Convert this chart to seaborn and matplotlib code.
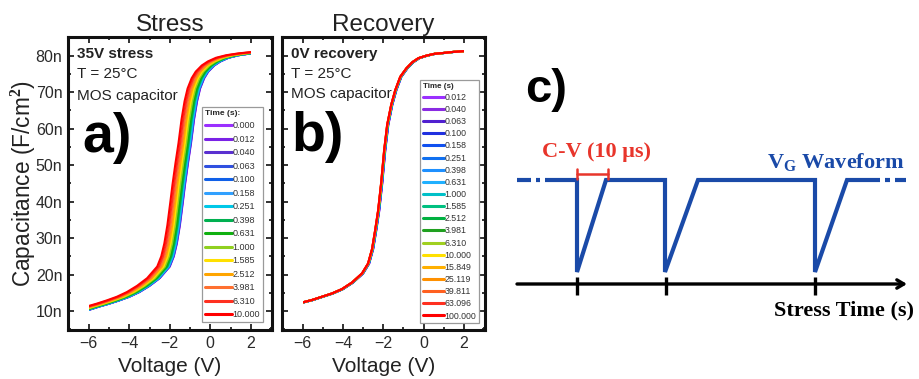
import numpy as np
import pandas as pd
import matplotlib
matplotlib.use("Agg")
import matplotlib.pyplot as plt
from matplotlib.patches import Rectangle
from matplotlib.ticker import FuncFormatter, MultipleLocator
import seaborn as sns

# ---------------------------------------------------------------- data
# gate-voltage window of every C-V sweep (V)
SWEEP = (-6.0, 2.0)

# panel a: unstressed C-V curve (V, nF/cm2)
BASE_V_A = [-6.0, -5.5, -5.0, -4.5, -4.0, -3.5, -3.0, -2.5, -2.0, -1.8, -1.65,
            -1.5, -1.35, -1.25, -1.1, -0.95, -0.8, -0.65, -0.5, -0.3,
            -0.1, 0.2, 0.5, 0.9, 1.4, 2.0, 2.7]
BASE_C_A = [10.3, 11.2, 12.0, 12.9, 13.9, 15.2, 16.9, 19.0, 22.2, 25.0, 28.5,
            33.5, 40.0, 44.5, 50.5, 56.0, 62.5, 67.5, 71.0, 73.8,
            75.6, 77.3, 78.4, 79.4, 80.1, 80.6, 81.0]

# stress times and threshold shift of each curve at mid-gap (V)
STRESS_TIMES = ["0.000", "0.012", "0.040", "0.063", "0.100", "0.158", "0.251",
                "0.398", "0.631", "1.000", "1.585", "2.512", "3.981", "6.310",
                "10.000"]
STRESS_SHIFT = [0.00, -0.01, -0.02, -0.03, -0.04, -0.05, -0.07, -0.12, -0.17,
                -0.24, -0.31, -0.38, -0.46, -0.54, -0.62]
STRESS_COLORS = ["#9b30ff", "#7a22e6", "#5a30d0", "#3050e0", "#1060e8",
                 "#30a0ff", "#00c8e8", "#00b050", "#10b010", "#90d020",
                 "#ffe000", "#ffa500", "#ff7030", "#ff3020", "#ff0000"]

# panel b: C-V curve after 0.012 s of recovery (V, nF/cm2)
BASE_V_B = [-6.0, -5.5, -5.0, -4.5, -4.0, -3.5, -3.0, -2.7, -2.5, -2.35, -2.2,
            -2.05, -1.9, -1.75, -1.55, -1.35, -1.1, -0.8, -0.5, -0.2, 0.2,
            0.6, 1.0, 1.5, 2.0, 2.2]
BASE_C_B = [12.3, 13.0, 13.9, 14.8, 16.0, 17.8, 20.3, 23.0, 27.0, 32.0, 37.5,
            45.0, 54.0, 61.0, 66.5, 70.5, 74.2, 76.5, 78.2, 79.3, 80.0,
            80.5, 80.7, 81.0, 81.2, 81.3]

RECOVERY_TIMES = ["0.012", "0.040", "0.063", "0.100", "0.158", "0.251",
                  "0.398", "0.631", "1.000", "1.585", "2.512", "3.981",
                  "6.310", "10.000", "15.849", "25.119", "39.811", "63.096",
                  "100.000"]
RECOVERY_SHIFT = [0.00, -0.005, -0.01, -0.015, -0.02, -0.02, -0.025, -0.03,
                  -0.03, -0.035, -0.04, -0.04, -0.045, -0.05, -0.05, -0.055,
                  -0.055, -0.06, -0.06]
RECOVERY_COLORS = ["#9b30ff", "#8a2be2", "#5020d0", "#2030e0", "#1050f0",
                   "#1070f0", "#1e90ff", "#20b0ff", "#00c0c8", "#00c080",
                   "#00b040", "#20a020", "#a0d020", "#ffe000", "#ffb000",
                   "#ff9000", "#ff6020", "#ff3020", "#ff0000"]

# panel c: gate waveform schematic (panel units, y grows downward)
WAVE_X = [45, 77, 77, 106, 165, 165, 198, 315, 315, 347, 380]
WAVE_Y = [180, 180, 272, 180, 180, 272, 180, 180, 272, 180, 180]
WAVE_DASHES = [(17, 31), (36, 40), (385, 390), (395, 406)]
TIME_AXIS = (17, 407, 284)
MEAS_TICKS = [77, 166, 315]
CV_WINDOW = (77, 108, 174)

# ---------------------------------------------------------------- style
sns.set_style("ticks")
plt.rcParams["font.family"] = ["Liberation Sans", "DejaVu Sans"]
plt.rcParams["mathtext.fontset"] = "custom"
plt.rcParams["mathtext.rm"] = "Liberation Serif:bold"
plt.rcParams["mathtext.bf"] = "Liberation Serif:bold"

W, H = 919, 379
fig = plt.figure(figsize=(W / 100, H / 100), dpi=100)


def frac_box(x0, y0, x1, y1):
    return [x0 / W, 1 - y1 / H, (x1 - x0) / W, (y1 - y0) / H]


def curves_frame(base_v, base_c, times, shifts):
    rows = []
    for t, s in zip(times, shifts):
        for v, c in zip(base_v, base_c):
            rows.append({"V": v + s, "C": c, "time": t})
    return pd.DataFrame(rows)


def cv_panel(ax, df, times, colors, title, notes, tag, leg_anchor,
             leg_size, leg_spacing, handle_len):
    sns.lineplot(data=df, x="V", y="C", hue="time", hue_order=times,
                 palette=colors, estimator=None, sort=False, lw=1.5, ax=ax)
    for line in ax.lines:
        line.set_clip_path(Rectangle((SWEEP[0], 0), SWEEP[1] - SWEEP[0], 100,
                                     transform=ax.transData))
    ax.set_xlim(-7.03, 3.05)
    ax.set_ylim(4.8, 85.1)
    ax.xaxis.set_major_locator(MultipleLocator(2))
    ax.xaxis.set_minor_locator(MultipleLocator(1))
    ax.yaxis.set_major_locator(MultipleLocator(10))
    ax.yaxis.set_minor_locator(MultipleLocator(5))
    ax.yaxis.set_major_formatter(FuncFormatter(lambda v, p: f"{v:.0f}n"))
    ax.tick_params(which="both", direction="in", top=True, right=True,
                   width=1.3, colors="#222222", labelcolor="#2a2a2a")
    ax.tick_params(which="major", length=4, labelsize=11.5, pad=4)
    ax.tick_params(which="minor", length=2.2)
    for sp in ax.spines.values():
        sp.set_linewidth(2.2)
        sp.set_color("#111111")
    ax.set_title(title, fontsize=17.5, pad=4, color="#222222")
    ax.set_xlabel("Voltage (V)", fontsize=15, labelpad=5, color="#222222")
    ax.set_ylabel("")
    for (txt, y, bold) in notes:
        ax.text(0.043, y, txt, transform=ax.transAxes, fontsize=11,
                fontweight="bold" if bold else "normal", va="baseline",
                color="#222222")
    ax.text(tag[1], tag[2], tag[0], transform=ax.transAxes, fontsize=40,
            fontweight="bold", ha="center", va="center", color="black")
    h, l = ax.get_legend_handles_labels()
    leg = ax.legend(h, l, title=leg_anchor[2], loc="upper left",
                    bbox_to_anchor=(leg_anchor[0], leg_anchor[1]),
                    fontsize=leg_size, title_fontproperties={"weight": "bold",
                                                             "size": leg_size - 0.5},
                    alignment="left", frameon=True, fancybox=False,
                    edgecolor="#9a9a9a", framealpha=1, borderpad=0.3,
                    labelspacing=leg_spacing, handlelength=handle_len,
                    handletextpad=0.1, borderaxespad=0)
    leg.get_frame().set_linewidth(0.9)
    for hd in leg.legend_handles:
        hd.set_linewidth(2.2)
    for t in leg.get_texts():
        t.set_color("#333333")


# ---------------------------------------------------------------- panel a
ax_a = fig.add_axes(frac_box(68, 37, 272, 330))
cv_panel(ax_a, curves_frame(BASE_V_A, BASE_C_A, STRESS_TIMES, STRESS_SHIFT),
         STRESS_TIMES, STRESS_COLORS, "Stress",
         [("35V stress", 0.927, True), ("T = 25°C", 0.859, False),
          ("MOS capacitor", 0.785, False)],
         ("a)", 0.19, 0.655), (0.657, 0.761, "Time (s):"), 6.5, 0.5, 3.0)
ax_a.set_ylabel("Capacitance (F/cm$^{2}$)", fontsize=16.3, labelpad=-1.5,
                color="#222222")

# ---------------------------------------------------------------- panel b
ax_b = fig.add_axes(frac_box(282, 37, 485, 330))
cv_panel(ax_b, curves_frame(BASE_V_B, BASE_C_B, RECOVERY_TIMES, RECOVERY_SHIFT),
         RECOVERY_TIMES, RECOVERY_COLORS, "Recovery",
         [("0V recovery", 0.927, True), ("T = 25°C", 0.859, False),
          ("MOS capacitor", 0.792, False)],
         ("b)", 0.177, 0.658), (0.68, 0.853, "Time (s)"), 6.3, 0.36, 2.4)
ax_b.tick_params(labelleft=False)

# ---------------------------------------------------------------- panel c
ax_c = fig.add_axes([500 / W, 0, 419 / W, 1])
ax_c.set_xlim(0, 419)
ax_c.set_ylim(379, 0)
ax_c.axis("off")

blue = "#1a4aa8"
ax_c.plot(WAVE_X, WAVE_Y, color=blue, lw=3.0, solid_joinstyle="miter",
          solid_capstyle="butt")
for x0, x1 in WAVE_DASHES:
    ax_c.plot([x0, x1], [WAVE_Y[0], WAVE_Y[0]], color=blue, lw=3.0,
              solid_capstyle="butt")

x0, x1, ya = TIME_AXIS
ax_c.annotate("", xy=(x1, ya), xytext=(x0, ya),
              arrowprops=dict(arrowstyle="->,head_length=0.5,head_width=0.3",
                              lw=2.4, color="black", shrinkA=0, shrinkB=0))
for xt in MEAS_TICKS:
    ax_c.plot([xt, xt], [ya - 7, ya + 11], color="black", lw=2.4,
              solid_capstyle="butt")

red = "#e8352b"
cx0, cx1, cy = CV_WINDOW
ax_c.plot([cx0, cx1], [cy, cy], color=red, lw=1.8)
for xc in (cx0, cx1):
    ax_c.plot([xc, xc], [cy - 5, cy + 5], color=red, lw=1.8)

serif = ["Liberation Serif", "DejaVu Serif"]
ax_c.text(97, 152, "C-V (10 μs)", color=red, fontsize=16, family=serif,
          fontweight="bold", ha="center", va="center")
ax_c.text(336, 163, r"$\mathbf{V}_{\mathbf{G}}$ Waveform", color=blue,
          fontsize=16, family=serif, fontweight="bold", ha="center",
          va="center")
ax_c.text(414, 310, "Stress Time (s)", color="black", fontsize=16,
          family=serif, fontweight="bold", ha="right", va="center")
ax_c.text(46, 90, "c)", color="black", fontsize=34, fontweight="bold",
          ha="center", va="center")

fig.savefig("out.png", dpi=100)
